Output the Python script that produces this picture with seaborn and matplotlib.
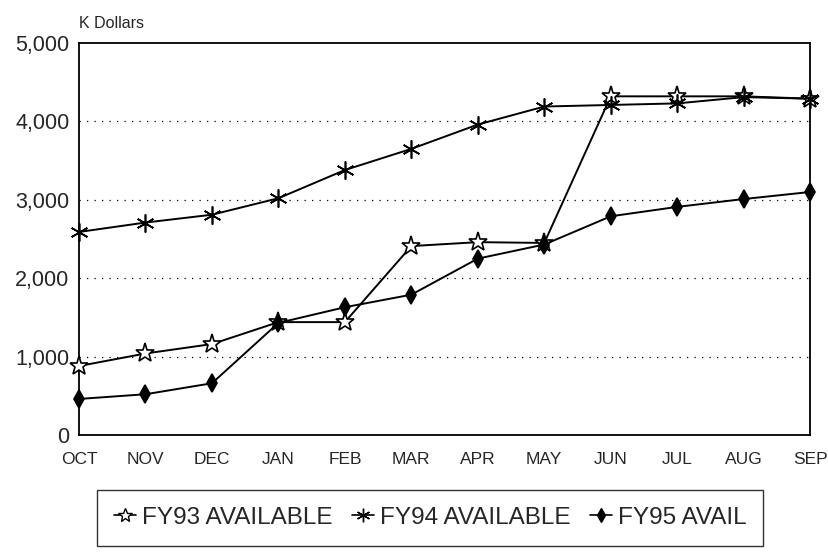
import matplotlib
matplotlib.use("Agg")
import matplotlib.pyplot as plt
import seaborn as sns
import pandas as pd

months = ["OCT", "NOV", "DEC", "JAN", "FEB", "MAR", "APR", "MAY", "JUN", "JUL", "AUG", "SEP"]
fy93 = [880, 1040, 1160, 1440, 1440, 2410, 2460, 2450, 4320, 4320, 4320, 4290]
fy94 = [2590, 2710, 2810, 3020, 3380, 3650, 3960, 4190, 4210, 4230, 4310, 4290]
fy95 = [460, 520, 660, 1430, 1630, 1790, 2250, 2430, 2790, 2910, 3010, 3100]
series_names = ["FY93 AVAILABLE", "FY94 AVAILABLE", "FY95 AVAIL"]

rows = []
for name, vals in zip(series_names, [fy93, fy94, fy95]):
    for i, v in enumerate(vals):
        rows.append({"month": i, "value": v, "series": name})
df = pd.DataFrame(rows)

sns.set_style("white")
plt.rcParams["font.family"] = ["Liberation Sans", "DejaVu Sans"]

fig = plt.figure(figsize=(8.29, 5.58), dpi=100)
ax = fig.add_axes([0.0953, 0.2204, 0.882, 0.7025])

markers = {"FY93 AVAILABLE": "*", "FY94 AVAILABLE": (6, 2, 0), "FY95 AVAIL": "d"}
sizes = {"FY93 AVAILABLE": 14, "FY94 AVAILABLE": 13, "FY95 AVAIL": 9}

# gridlines first so lines sit on top
for yv in [1000, 2000, 3000, 4000]:
    ax.axhline(yv, color="black", linestyle=(0, (1, 5)), linewidth=0.9, zorder=0)

handles = []
for name, vals in zip(series_names, [fy93, fy94, fy95]):
    sub = df[df["series"] == name]
    face = "white" if name == "FY93 AVAILABLE" else "black"
    sns.lineplot(data=sub, x="month", y="value", ax=ax, color="black",
                 linewidth=1.4, marker=markers[name], markersize=sizes[name],
                 markerfacecolor=face, markeredgecolor="black",
                 markeredgewidth=1.2, legend=False, zorder=3, clip_on=False)
    h, = ax.plot([], [], color="black", linewidth=1.2, marker=markers[name],
                 markersize=sizes[name] * 0.75, markerfacecolor=face,
                 markeredgecolor="black", markeredgewidth=1.0)
    handles.append(h)

ax.set_xlim(0, 11)
ax.set_ylim(0, 5000)
ax.set_xticks(range(12))
ax.set_xticklabels(months, fontsize=12.5)
ax.set_yticks([0, 1000, 2000, 3000, 4000, 5000])
ax.set_yticklabels(["0", "1,000", "2,000", "3,000", "4,000", "5,000"], fontsize=15.5)
ax.tick_params(axis="y", length=0, pad=7)
ax.tick_params(axis="x", length=0, pad=12)
ax.set_xlabel("")
ax.set_ylabel("")
for s in ax.spines.values():
    s.set_color("black")
    s.set_linewidth(1.3)

ax.text(0.0, 1.03, "K Dollars", transform=ax.transAxes, fontsize=11.5,
        ha="left", va="bottom")

leg = fig.legend(handles, series_names, loc="center", bbox_to_anchor=(0.519, 0.072),
                 ncol=3, fontsize=17.5, frameon=True, fancybox=False,
                 handlelength=0.9, handletextpad=0.25, columnspacing=0.8,
                 borderpad=0.7, edgecolor="black")
leg.get_frame().set_linewidth(1.0)

fig.savefig("out.png", dpi=100)
